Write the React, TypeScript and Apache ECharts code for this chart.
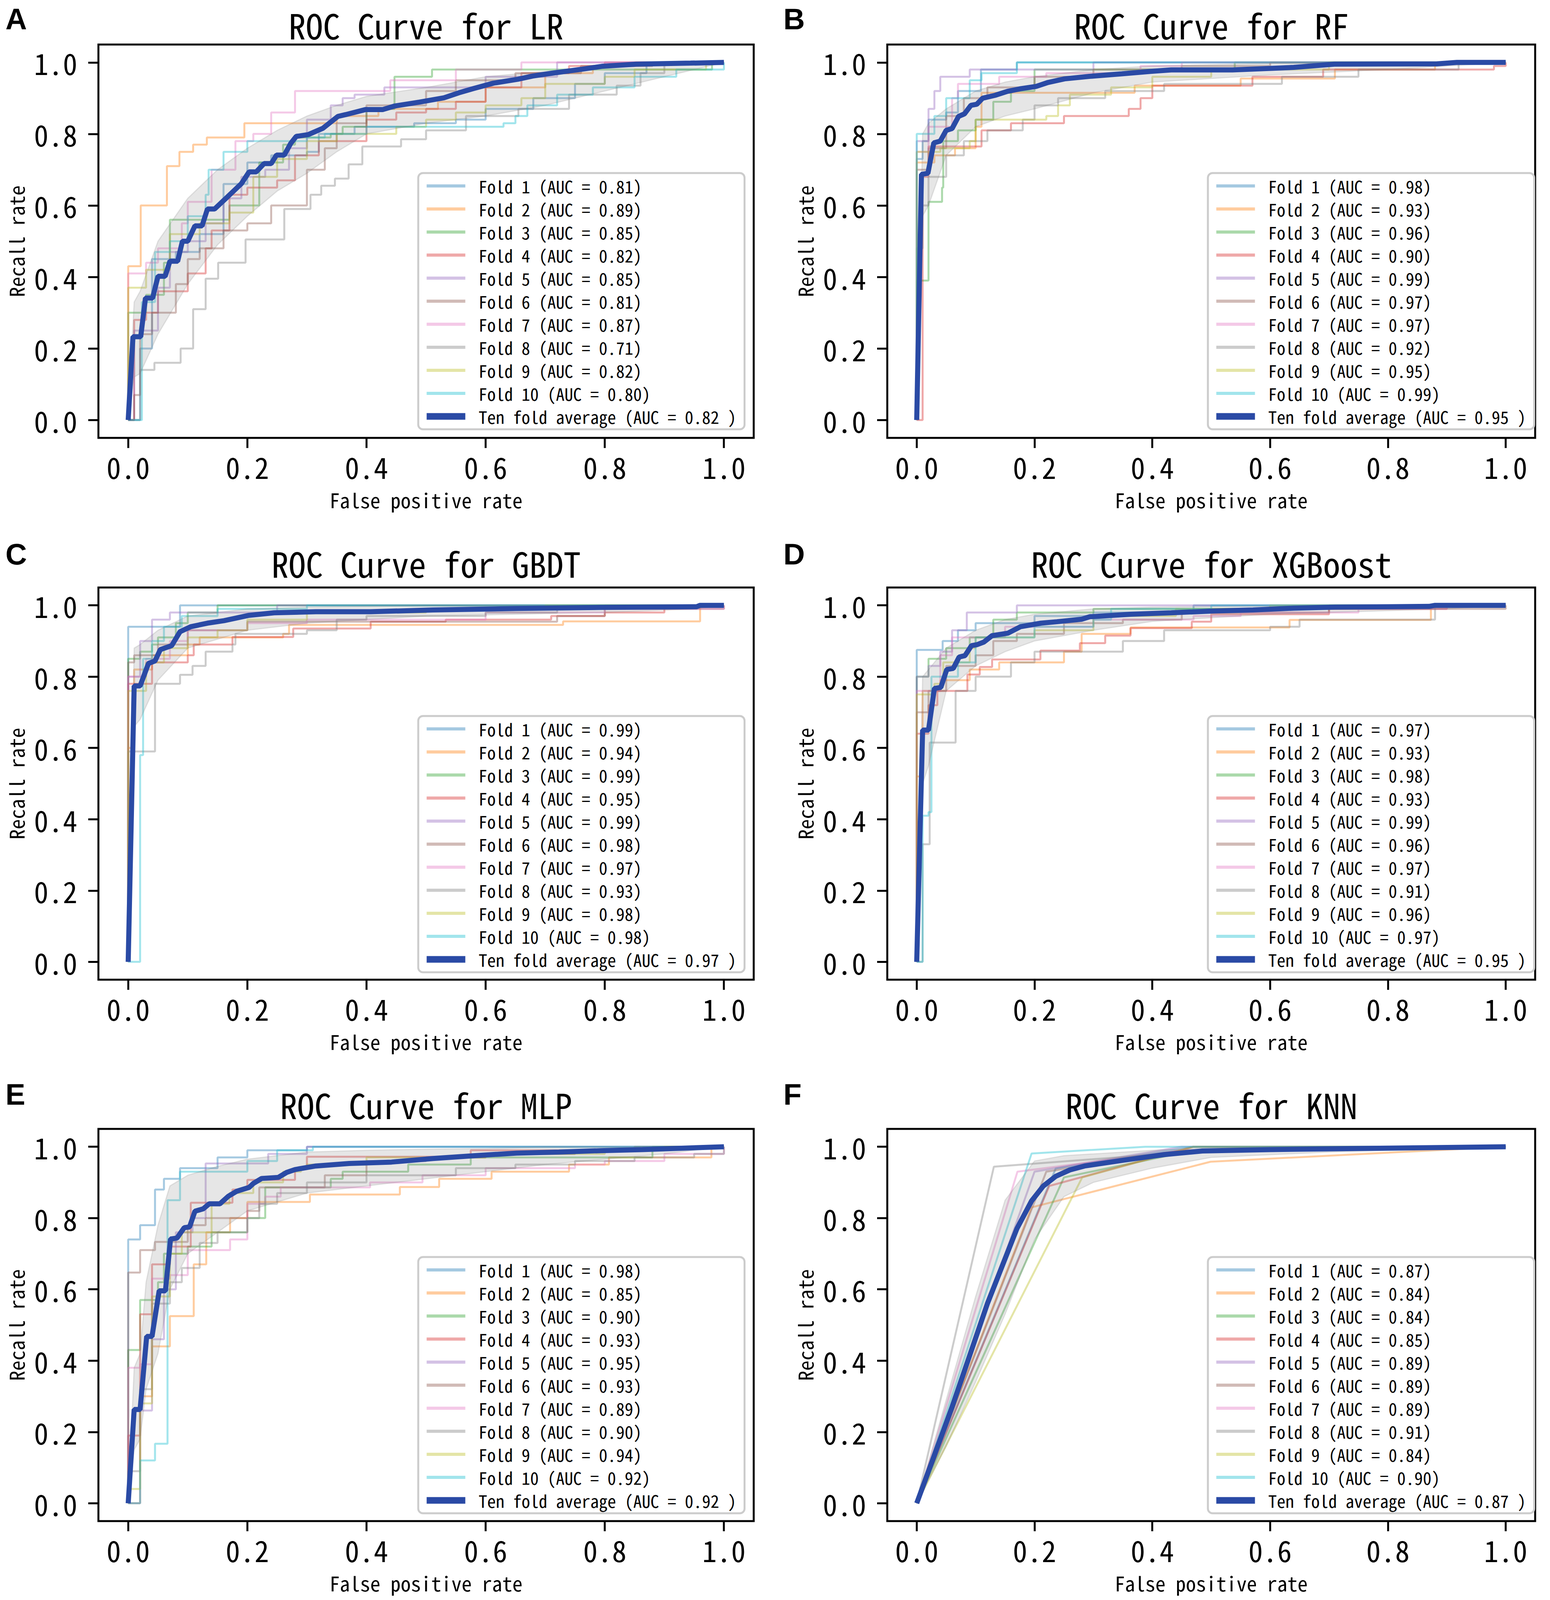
import React, { useEffect, useRef } from 'react';
import * as echarts from 'echarts';

// ---------------- data ----------------
const MODELS = ['LR', 'RF', 'GBDT', 'XGBoost', 'MLP', 'KNN'];
const LETTERS = ['A', 'B', 'C', 'D', 'E', 'F'];
const TICKS = [0, 0.2, 0.4, 0.6, 0.8, 1.0];

const LR_AUC = [0.81, 0.89, 0.85, 0.82, 0.85, 0.81, 0.87, 0.71, 0.82, 0.80];
const RF_AUC = [0.98, 0.93, 0.96, 0.90, 0.99, 0.97, 0.97, 0.92, 0.95, 0.99];
const GBDT_AUC = [0.99, 0.94, 0.99, 0.95, 0.99, 0.98, 0.97, 0.93, 0.98, 0.98];
const XGB_AUC = [0.97, 0.93, 0.98, 0.93, 0.99, 0.96, 0.97, 0.91, 0.96, 0.97];
const MLP_AUC = [0.98, 0.85, 0.90, 0.93, 0.95, 0.93, 0.89, 0.90, 0.94, 0.92];
const KNN_AUC = [0.87, 0.84, 0.84, 0.85, 0.89, 0.89, 0.89, 0.91, 0.84, 0.90];
const MEAN_AUC = [0.82, 0.95, 0.97, 0.95, 0.92, 0.87];

// fold curves: [fpr, tpr] points where the step rises
const LR_FOLDS = [
  [[0, 0], [0.02, 0.2], [0.04, 0.45], [0.08, 0.47], [0.12, 0.52], [0.16, 0.66], [0.2, 0.72], [0.24, 0.74], [0.3, 0.75], [0.32, 0.8], [0.38, 0.82], [0.48, 0.83], [0.55, 0.84], [0.6, 0.87], [0.68, 0.9], [0.75, 0.94], [0.8, 0.97], [0.87, 1], [1, 1]],
  [[0, 0], [0, 0.43], [0.021, 0.6], [0.065, 0.71], [0.086, 0.75], [0.109, 0.77], [0.132, 0.79], [0.195, 0.83], [0.35, 0.85], [0.42, 0.87], [0.52, 0.89], [0.6, 0.93], [0.7, 0.97], [0.78, 0.99], [0.85, 1], [1, 1]],
  [[0, 0], [0, 0.3], [0.03, 0.35], [0.06, 0.44], [0.07, 0.56], [0.15, 0.56], [0.17, 0.6], [0.22, 0.72], [0.26, 0.77], [0.28, 0.79], [0.34, 0.8], [0.36, 0.82], [0.4, 0.87], [0.447, 0.96], [0.51, 0.98], [0.98, 1], [1, 1]],
  [[0, 0], [0.01, 0.28], [0.03, 0.3], [0.05, 0.36], [0.1, 0.41], [0.13, 0.48], [0.14, 0.53], [0.17, 0.63], [0.2, 0.65], [0.25, 0.67], [0.28, 0.74], [0.32, 0.78], [0.4, 0.84], [0.45, 0.86], [0.5, 0.87], [0.55, 0.89], [0.6, 0.93], [0.66, 0.97], [0.74, 0.99], [0.8, 1], [1, 1]],
  [[0, 0], [0.01, 0.25], [0.05, 0.37], [0.07, 0.47], [0.1, 0.5], [0.13, 0.55], [0.16, 0.62], [0.19, 0.68], [0.23, 0.7], [0.27, 0.76], [0.3, 0.84], [0.34, 0.88], [0.36, 0.9], [0.38, 0.91], [0.43, 0.93], [0.6, 0.96], [0.72, 1], [1, 1]],
  [[0, 0], [0.01, 0.07], [0.02, 0.24], [0.04, 0.3], [0.08, 0.38], [0.1, 0.45], [0.12, 0.48], [0.16, 0.53], [0.2, 0.55], [0.24, 0.6], [0.3, 0.7], [0.33, 0.76], [0.35, 0.83], [0.4, 0.88], [0.5, 0.92], [0.55, 0.95], [0.65, 0.97], [0.76, 0.99], [0.88, 1], [1, 1]],
  [[0, 0], [0, 0.41], [0.03, 0.44], [0.05, 0.48], [0.09, 0.55], [0.1, 0.61], [0.14, 0.7], [0.18, 0.78], [0.21, 0.8], [0.24, 0.86], [0.28, 0.92], [0.35, 0.92], [0.44, 0.95], [0.55, 0.98], [0.66, 1], [1, 1]],
  [[0, 0], [0.02, 0.14], [0.044, 0.16], [0.088, 0.2], [0.109, 0.31], [0.13, 0.395], [0.151, 0.44], [0.197, 0.505], [0.262, 0.59], [0.306, 0.63], [0.324, 0.655], [0.347, 0.675], [0.37, 0.715], [0.393, 0.765], [0.458, 0.785], [0.5, 0.81], [0.567, 0.85], [0.655, 0.87], [0.74, 0.91], [0.82, 0.935], [0.86, 0.97], [0.9, 1], [1, 1]],
  [[0, 0], [0, 0.37], [0.03, 0.42], [0.07, 0.52], [0.12, 0.55], [0.17, 0.58], [0.21, 0.68], [0.25, 0.73], [0.3, 0.78], [0.35, 0.8], [0.45, 0.82], [0.5, 0.84], [0.55, 0.86], [0.6, 0.88], [0.66, 0.9], [0.7, 0.94], [0.8, 0.96], [0.85, 0.98], [0.97, 1], [1, 1]],
  [[0, 0], [0.023, 0.33], [0.045, 0.47], [0.07, 0.5], [0.1, 0.57], [0.13, 0.63], [0.135, 0.7], [0.16, 0.75], [0.2, 0.78], [0.3, 0.79], [0.33, 0.8], [0.4, 0.82], [0.63, 0.83], [0.65, 0.85], [0.67, 0.88], [0.72, 0.91], [0.78, 0.93], [0.85, 0.96], [0.92, 0.98], [1, 1]],
];
const RF_FOLDS = [
  [[0, 0], [0, 0.73], [0.01, 0.78], [0.02, 0.84], [0.05, 0.86], [0.07, 0.92], [0.109, 0.98], [0.17, 1], [1, 1]],
  [[0, 0], [0, 0.72], [0.03, 0.74], [0.065, 0.76], [0.1, 0.82], [0.11, 0.915], [0.35, 0.915], [0.37, 0.935], [0.53, 0.935], [0.55, 0.955], [0.7, 0.955], [0.71, 0.98], [0.88, 1], [1, 1]],
  [[0, 0], [0, 0.39], [0.02, 0.61], [0.043, 0.65], [0.045, 0.78], [0.07, 0.81], [0.1, 0.84], [0.13, 0.89], [0.16, 0.92], [0.2, 0.98], [0.54, 1], [1, 1]],
  [[0, 0], [0.01, 0.68], [0.02, 0.765], [0.11, 0.81], [0.16, 0.83], [0.25, 0.85], [0.36, 0.87], [0.38, 0.9], [0.4, 0.935], [0.57, 0.96], [0.69, 0.98], [0.98, 0.99], [1, 1]],
  [[0, 0], [0, 0.78], [0.02, 0.87], [0.03, 0.92], [0.04, 0.96], [0.09, 0.98], [0.3, 1], [1, 1]],
  [[0, 0], [0, 0.7], [0.02, 0.76], [0.05, 0.85], [0.08, 0.9], [0.12, 0.93], [0.2, 0.96], [0.3, 0.98], [0.45, 0.99], [0.6, 1], [1, 1]],
  [[0, 0], [0, 0.75], [0.02, 0.82], [0.06, 0.9], [0.07, 0.94], [0.14, 0.96], [0.22, 0.97], [0.38, 0.99], [0.45, 1], [1, 1]],
  [[0, 0], [0, 0.48], [0.01, 0.6], [0.02, 0.68], [0.05, 0.74], [0.08, 0.78], [0.12, 0.81], [0.18, 0.84], [0.2, 0.88], [0.24, 0.9], [0.32, 0.92], [0.42, 0.94], [0.62, 0.96], [0.75, 0.98], [0.92, 1], [1, 1]],
  [[0, 0], [0, 0.75], [0.04, 0.76], [0.09, 0.78], [0.1, 0.84], [0.22, 0.85], [0.24, 0.88], [0.26, 0.91], [0.33, 0.93], [0.4, 0.96], [0.5, 0.98], [0.7, 1], [1, 1]],
  [[0, 0], [0, 0.8], [0.03, 0.85], [0.05, 0.9], [0.09, 0.95], [0.11, 0.97], [0.17, 1], [1, 1]],
];
const GBDT_FOLDS = [
  [[0, 0], [0, 0.94], [0.087, 1], [1, 1]],
  [[0, 0], [0, 0.6], [0.01, 0.82], [0.04, 0.86], [0.1, 0.89], [0.12, 0.91], [0.26, 0.92], [0.27, 0.945], [0.73, 0.955], [0.96, 1], [1, 1]],
  [[0, 0], [0, 0.85], [0.02, 0.87], [0.04, 0.89], [0.05, 0.91], [0.08, 0.95], [0.1, 0.98], [0.15, 1], [1, 1]],
  [[0, 0], [0, 0.78], [0.04, 0.84], [0.1, 0.86], [0.11, 0.89], [0.175, 0.911], [0.277, 0.935], [0.407, 0.954], [0.533, 0.96], [0.71, 0.97], [0.8, 0.98], [0.9, 1], [1, 1]],
  [[0, 0], [0, 0.8], [0.02, 0.9], [0.04, 0.96], [0.07, 0.98], [0.25, 1], [1, 1]],
  [[0, 0], [0, 0.84], [0.01, 0.86], [0.05, 0.89], [0.1, 0.93], [0.2, 0.954], [0.72, 0.97], [0.8, 0.99], [1, 1]],
  [[0, 0], [0, 0.8], [0.03, 0.85], [0.07, 0.9], [0.1, 0.93], [0.2, 0.95], [0.3, 0.96], [0.6, 0.98], [0.8, 0.99], [1, 1]],
  [[0, 0], [0, 0.59], [0.045, 0.63], [0.045, 0.78], [0.087, 0.805], [0.108, 0.83], [0.13, 0.87], [0.175, 0.89], [0.18, 0.92], [0.3, 0.93], [0.35, 0.96], [0.4, 0.97], [0.6, 0.98], [0.72, 0.99], [0.8, 1], [1, 1]],
  [[0, 0], [0, 0.76], [0.03, 0.84], [0.06, 0.88], [0.1, 0.91], [0.15, 0.93], [0.2, 0.96], [0.3, 0.98], [0.5, 0.99], [0.7, 1], [1, 1]],
  [[0, 0], [0, 0.0], [0.02, 0.58], [0.025, 0.85], [0.04, 0.9], [0.06, 0.94], [0.09, 0.97], [0.15, 0.99], [0.3, 1], [1, 1]],
];
const XGB_FOLDS = [
  [[0, 0], [0, 0.875], [0.044, 0.9], [0.07, 0.93], [0.1, 0.95], [0.2, 0.97], [0.3, 0.98], [0.47, 1], [1, 1]],
  [[0, 0], [0, 0.52], [0.01, 0.76], [0.04, 0.79], [0.09, 0.82], [0.14, 0.84], [0.25, 0.87], [0.28, 0.92], [0.363, 0.938], [0.633, 0.959], [0.873, 1], [1, 1]],
  [[0, 0], [0, 0.8], [0.02, 0.85], [0.05, 0.88], [0.09, 0.91], [0.13, 0.96], [0.17, 0.98], [0.3, 0.99], [0.7, 1], [1, 1]],
  [[0, 0], [0, 0.64], [0.02, 0.72], [0.035, 0.76], [0.086, 0.806], [0.107, 0.827], [0.128, 0.848], [0.21, 0.873], [0.277, 0.894], [0.32, 0.915], [0.363, 0.936], [0.467, 0.954], [0.5, 0.975], [0.7, 0.99], [0.9, 1], [1, 1]],
  [[0, 0], [0, 0.8], [0.02, 0.83], [0.04, 0.87], [0.06, 0.93], [0.085, 0.98], [0.17, 1], [1, 1]],
  [[0, 0], [0, 0.7], [0.02, 0.76], [0.05, 0.83], [0.1, 0.86], [0.13, 0.9], [0.17, 0.92], [0.25, 0.95], [0.35, 0.96], [0.45, 0.98], [0.7, 0.99], [1, 1]],
  [[0, 0], [0, 0.76], [0.04, 0.86], [0.06, 0.91], [0.15, 0.94], [0.3, 0.96], [0.47, 0.97], [0.55, 0.98], [0.75, 0.99], [0.9, 1], [1, 1]],
  [[0, 0], [0.01, 0.33], [0.022, 0.615], [0.066, 0.633], [0.066, 0.76], [0.1, 0.8], [0.16, 0.84], [0.2, 0.87], [0.35, 0.9], [0.42, 0.93], [0.6, 0.94], [0.65, 0.96], [0.88, 0.97], [0.88, 1], [1, 1]],
  [[0, 0], [0, 0.75], [0.03, 0.78], [0.045, 0.84], [0.09, 0.88], [0.1, 0.91], [0.2, 0.93], [0.3, 0.97], [0.44, 0.99], [0.6, 1], [1, 1]],
  [[0, 0], [0.01, 0.41], [0.02, 0.42], [0.025, 0.8], [0.07, 0.84], [0.1, 0.91], [0.2, 0.94], [0.3, 0.96], [0.33, 0.99], [0.5, 1], [1, 1]],
];
const MLP_FOLDS = [
  [[0, 0], [0, 0.74], [0.02, 0.78], [0.045, 0.88], [0.06, 0.91], [0.087, 0.94], [0.15, 0.97], [0.2, 0.99], [0.3, 1], [1, 1]],
  [[0, 0], [0.02, 0.3], [0.04, 0.44], [0.07, 0.525], [0.11, 0.67], [0.131, 0.76], [0.171, 0.8], [0.2, 0.845], [0.305, 0.866], [0.456, 0.887], [0.522, 0.91], [0.61, 0.93], [0.74, 0.95], [0.807, 0.97], [0.979, 1], [1, 1]],
  [[0, 0], [0, 0.43], [0.02, 0.57], [0.05, 0.62], [0.06, 0.7], [0.1, 0.72], [0.14, 0.76], [0.2, 0.8], [0.23, 0.886], [0.34, 0.91], [0.36, 0.93], [0.47, 0.95], [0.575, 0.97], [0.88, 1], [1, 1]],
  [[0, 0], [0, 0.19], [0.02, 0.53], [0.04, 0.67], [0.07, 0.72], [0.105, 0.843], [0.175, 0.88], [0.2, 0.907], [0.28, 0.94], [0.3, 0.972], [0.575, 0.99], [0.9, 1], [1, 1]],
  [[0, 0], [0.02, 0.26], [0.04, 0.46], [0.06, 0.6], [0.08, 0.76], [0.108, 0.8], [0.13, 0.953], [0.235, 0.98], [0.3, 1], [1, 1]],
  [[0, 0], [0, 0.647], [0.02, 0.71], [0.045, 0.733], [0.1, 0.78], [0.13, 0.8], [0.2, 0.82], [0.22, 0.886], [0.33, 0.92], [0.4, 0.96], [0.5, 0.97], [0.6, 0.98], [0.75, 0.99], [0.85, 1], [1, 1]],
  [[0, 0], [0, 0.38], [0.02, 0.39], [0.04, 0.63], [0.07, 0.64], [0.1, 0.71], [0.171, 0.74], [0.2, 0.84], [0.23, 0.86], [0.256, 0.886], [0.406, 0.9], [0.494, 0.92], [0.6, 0.94], [0.75, 0.95], [0.8, 0.96], [0.9, 0.98], [1, 1]],
  [[0, 0], [0, 0.09], [0.02, 0.32], [0.04, 0.56], [0.07, 0.62], [0.09, 0.66], [0.12, 0.73], [0.15, 0.76], [0.2, 0.8], [0.22, 0.84], [0.25, 0.87], [0.3, 0.9], [0.4, 0.92], [0.55, 0.94], [0.65, 0.95], [0.75, 0.96], [0.85, 0.97], [0.95, 0.98], [1, 1]],
  [[0, 0], [0, 0.04], [0.02, 0.28], [0.04, 0.58], [0.07, 0.7], [0.09, 0.76], [0.14, 0.84], [0.17, 0.87], [0.21, 0.9], [0.26, 0.93], [0.29, 0.94], [0.3, 0.95], [0.4, 0.97], [0.6, 0.98], [0.8, 0.99], [0.9, 1], [1, 1]],
  [[0, 0], [0.02, 0.12], [0.045, 0.167], [0.066, 0.85], [0.087, 0.93], [0.2, 0.96], [0.25, 0.99], [0.31, 1], [1, 1]],
];
const KNN_FOLDS = [
  [[0, 0], [0.236, 0.939], [0.47, 1], [1, 1]],
  [[0, 0], [0.195, 0.83], [0.499, 0.958], [1, 1]],
  [[0, 0], [0.25, 0.914], [0.47, 0.99], [1, 1]],
  [[0, 0], [0.225, 0.89], [0.47, 1], [1, 1]],
  [[0, 0], [0.2, 0.93], [0.45, 1], [1, 1]],
  [[0, 0], [0.22, 0.93], [0.45, 0.99], [1, 1]],
  [[0, 0], [0.171, 0.93], [0.45, 0.99], [1, 1]],
  [[0, 0], [0.131, 0.944], [0.5, 0.99], [1, 1]],
  [[0, 0], [0.281, 0.914], [0.47, 1], [1, 1]],
  [[0, 0], [0.195, 0.981], [0.388, 1], [1, 1]],
];

const LR_MEAN = [[0, 0], [0.008, 0.233], [0.021, 0.233], [0.029, 0.341], [0.041, 0.341], [0.05, 0.402], [0.062, 0.402], [0.07, 0.444], [0.083, 0.444], [0.091, 0.5], [0.1, 0.5], [0.112, 0.543], [0.124, 0.543], [0.133, 0.59], [0.145, 0.59], [0.166, 0.623], [0.19, 0.661], [0.203, 0.694], [0.215, 0.694], [0.228, 0.717], [0.24, 0.717], [0.249, 0.741], [0.262, 0.741], [0.273, 0.774], [0.282, 0.793], [0.302, 0.798], [0.327, 0.816], [0.352, 0.849], [0.365, 0.854], [0.398, 0.868], [0.427, 0.868], [0.447, 0.878], [0.489, 0.889], [0.53, 0.901], [0.555, 0.915], [0.58, 0.927], [0.613, 0.942], [0.654, 0.953], [0.679, 0.962], [0.712, 0.97], [0.762, 0.981], [0.795, 0.989], [0.853, 0.995], [0.944, 0.998], [1, 1]];
const RF_MEAN = [[0, 0], [0.008, 0.687], [0.019, 0.69], [0.029, 0.775], [0.04, 0.78], [0.05, 0.81], [0.06, 0.815], [0.071, 0.849], [0.081, 0.856], [0.092, 0.88], [0.102, 0.883], [0.112, 0.9], [0.133, 0.908], [0.154, 0.919], [0.175, 0.926], [0.203, 0.933], [0.223, 0.944], [0.251, 0.954], [0.293, 0.961], [0.348, 0.968], [0.397, 0.975], [0.432, 0.979], [0.536, 0.979], [0.64, 0.986], [0.709, 0.995], [0.883, 0.996], [0.917, 1], [1, 1]];
const GBDT_MEAN = [[0, 0], [0.01, 0.774], [0.02, 0.774], [0.034, 0.837], [0.045, 0.844], [0.054, 0.876], [0.073, 0.887], [0.087, 0.926], [0.105, 0.94], [0.133, 0.95], [0.161, 0.957], [0.203, 0.972], [0.245, 0.979], [0.315, 0.982], [0.407, 0.982], [0.512, 0.987], [0.652, 0.991], [0.793, 0.994], [0.954, 0.996], [0.96, 1], [1, 1]];
const XGB_MEAN = [[0, 0], [0.01, 0.65], [0.02, 0.65], [0.03, 0.767], [0.041, 0.77], [0.051, 0.82], [0.062, 0.823], [0.072, 0.855], [0.082, 0.859], [0.093, 0.887], [0.103, 0.89], [0.114, 0.897], [0.128, 0.915], [0.155, 0.922], [0.176, 0.94], [0.211, 0.95], [0.238, 0.954], [0.28, 0.961], [0.294, 0.968], [0.363, 0.975], [0.432, 0.979], [0.502, 0.984], [0.571, 0.987], [0.64, 0.992], [0.71, 0.995], [0.87, 0.997], [0.88, 1], [1, 1]];
const MLP_MEAN = [[0, 0], [0.01, 0.263], [0.02, 0.263], [0.031, 0.468], [0.04, 0.468], [0.052, 0.596], [0.0625, 0.596], [0.071, 0.741], [0.082, 0.744], [0.094, 0.773], [0.103, 0.775], [0.112, 0.819], [0.126, 0.826], [0.136, 0.84], [0.154, 0.84], [0.168, 0.861], [0.182, 0.875], [0.203, 0.886], [0.21, 0.897], [0.224, 0.911], [0.252, 0.914], [0.266, 0.928], [0.28, 0.936], [0.315, 0.946], [0.371, 0.953], [0.442, 0.957], [0.512, 0.967], [0.582, 0.975], [0.652, 0.982], [0.723, 0.985], [0.793, 0.989], [0.863, 0.992], [1, 1]];
const KNN_MEAN = [[0, 0], [0.06, 0.27], [0.12, 0.56], [0.17, 0.77], [0.195, 0.848], [0.215, 0.89], [0.236, 0.917], [0.26, 0.935], [0.285, 0.946], [0.35, 0.962], [0.42, 0.978], [0.485, 0.988], [0.6, 0.992], [0.8, 0.996], [1, 1]];

// mean ± std band
const LR_BAND_X = [0, 0.01, 0.02, 0.05, 0.1, 0.15, 0.2, 0.25, 0.3, 0.35, 0.4, 0.5, 0.6, 0.7, 0.8, 0.9, 1];
const LR_BAND_HI = [0, 0.33, 0.36, 0.5, 0.62, 0.7, 0.76, 0.81, 0.85, 0.88, 0.905, 0.93, 0.96, 0.975, 0.99, 1, 1];
const LR_BAND_LO = [0, 0.12, 0.13, 0.24, 0.38, 0.49, 0.57, 0.64, 0.69, 0.75, 0.8, 0.83, 0.85, 0.88, 0.92, 0.96, 1];
const RF_BAND_X = [0, 0.01, 0.02, 0.05, 0.1, 0.15, 0.2, 0.3, 0.4, 0.6, 0.8, 1];
const RF_BAND_HI = [0, 0.8, 0.83, 0.87, 0.92, 0.945, 0.96, 0.98, 0.99, 0.997, 1, 1];
const RF_BAND_LO = [0, 0.57, 0.6, 0.74, 0.82, 0.85, 0.87, 0.915, 0.945, 0.965, 0.98, 1];
const GBDT_BAND_X = [0, 0.01, 0.02, 0.05, 0.1, 0.2, 0.3, 0.5, 0.8, 0.95, 1];
const GBDT_BAND_HI = [0, 0.88, 0.89, 0.93, 0.97, 0.99, 0.995, 1, 1, 1, 1];
const GBDT_BAND_LO = [0, 0.66, 0.68, 0.79, 0.88, 0.93, 0.95, 0.97, 0.98, 0.99, 1];
const XGB_BAND_X = [0, 0.01, 0.02, 0.05, 0.1, 0.15, 0.2, 0.3, 0.4, 0.5, 0.6, 0.7, 0.8, 0.9, 1];
const XGB_BAND_HI = [0, 0.8, 0.82, 0.88, 0.93, 0.96, 0.975, 0.99, 0.995, 0.997, 0.998, 1, 1, 1, 1];
const XGB_BAND_LO = [0, 0.5, 0.55, 0.76, 0.83, 0.87, 0.9, 0.93, 0.955, 0.965, 0.975, 0.98, 0.985, 0.99, 1];
const MLP_BAND_X = [0, 0.01, 0.02, 0.03, 0.05, 0.07, 0.1, 0.15, 0.2, 0.3, 0.4, 0.5, 0.6, 0.7, 0.8, 0.9, 1];
const MLP_BAND_HI = [0, 0.38, 0.42, 0.62, 0.78, 0.89, 0.92, 0.945, 0.965, 0.985, 0.99, 0.993, 0.995, 1, 1, 1, 1];
const MLP_BAND_LO = [0, 0.15, 0.18, 0.32, 0.42, 0.6, 0.7, 0.76, 0.82, 0.87, 0.89, 0.91, 0.93, 0.95, 0.965, 0.98, 1];
const KNN_BAND_X = [0, 0.05, 0.1, 0.15, 0.2, 0.25, 0.3, 0.4, 0.5, 0.7, 1];
const KNN_BAND_HI = [0, 0.29, 0.58, 0.85, 0.96, 0.975, 0.98, 0.99, 0.998, 1, 1];
const KNN_BAND_LO = [0, 0.16, 0.34, 0.53, 0.74, 0.86, 0.9, 0.94, 0.97, 0.985, 1];

// ---------------- style / layout (reference pixels, 3969 x 4258) ----------------
const REF_W = 3969;
const REF_H = 4258;
const FONT = '"Noto Sans Mono CJK SC", "Noto Sans CJK SC", "DejaVu Sans Mono", monospace';
const LETTER_FONT = '"Liberation Sans", Arial, sans-serif';
const FOLD_COLORS = [
  'rgba(31,119,180,0.4)', 'rgba(255,127,14,0.4)', 'rgba(44,160,44,0.4)', 'rgba(214,39,40,0.4)',
  'rgba(148,103,189,0.4)', 'rgba(140,86,75,0.4)', 'rgba(227,119,194,0.4)', 'rgba(127,127,127,0.4)',
  'rgba(188,189,34,0.4)', 'rgba(23,190,207,0.4)',
];
const MEAN_COLOR = '#2A4AA5';
const BAND_COLOR = 'rgba(128,128,128,0.2)';

const GRID_LEFT = [252, 2272];
const GRID_W = [1678, 1659];
const GRID_TOP = [119, 1564, 3004];
const GRID_H = [1047, 1044, 1044];
const LEGEND_LEFT = [1071, 3093];
const LEGEND_TOP = [461, 1905, 3345];
const TITLE_Y = [64, 1497, 2938];
const LETTER_Y = [50, 1474, 2912];
const LETTER_X = [14, 2006];

const PANELS = [
  { folds: LR_FOLDS, auc: LR_AUC, mean: LR_MEAN, bx: LR_BAND_X, bh: LR_BAND_HI, bl: LR_BAND_LO, step: true },
  { folds: RF_FOLDS, auc: RF_AUC, mean: RF_MEAN, bx: RF_BAND_X, bh: RF_BAND_HI, bl: RF_BAND_LO, step: true },
  { folds: GBDT_FOLDS, auc: GBDT_AUC, mean: GBDT_MEAN, bx: GBDT_BAND_X, bh: GBDT_BAND_HI, bl: GBDT_BAND_LO, step: true },
  { folds: XGB_FOLDS, auc: XGB_AUC, mean: XGB_MEAN, bx: XGB_BAND_X, bh: XGB_BAND_HI, bl: XGB_BAND_LO, step: true },
  { folds: MLP_FOLDS, auc: MLP_AUC, mean: MLP_MEAN, bx: MLP_BAND_X, bh: MLP_BAND_HI, bl: MLP_BAND_LO, step: true },
  { folds: KNN_FOLDS, auc: KNN_AUC, mean: KNN_MEAN, bx: KNN_BAND_X, bh: KNN_BAND_HI, bl: KNN_BAND_LO, step: false },
];

function buildOption(W: number, H: number) {
  const sx = W / REF_W;
  const sy = H / REF_H;
  const sf = sx;
  const X = (v: number) => Math.round(v * sx);
  const Y = (v: number) => Math.round(v * sy);
  const F = (v: number) => Math.max(1, Math.round(v * sf));

  const grid: any[] = [];
  const xAxis: any[] = [];
  const yAxis: any[] = [];
  const series: any[] = [];
  const legend: any[] = [];
  const graphic: any[] = [];

  PANELS.forEach((p, i) => {
    const col = i % 2;
    const row = Math.floor(i / 2);
    grid.push({
      left: X(GRID_LEFT[col]), top: Y(GRID_TOP[row]), width: X(GRID_W[col]), height: Y(GRID_H[row]),
      show: true, borderColor: '#000', borderWidth: F(5), backgroundColor: 'transparent',
    });
    const axisCommon = {
      type: 'value', gridIndex: i, min: -0.05, max: 1.05,
      nameLocation: 'middle',
      nameTextStyle: { fontFamily: FONT, fontSize: F(52), color: '#000' },
      axisLine: { show: false, onZero: false },
      splitLine: { show: false },
      axisTick: { show: true, inside: false, length: F(26), customValues: TICKS, lineStyle: { color: '#000', width: F(5) } },
    };
    xAxis.push({
      ...axisCommon, name: 'False positive rate', nameGap: Y(136),
      axisLabel: { customValues: TICKS, formatter: (v: number) => v.toFixed(1), fontFamily: FONT, fontSize: F(74), color: '#000', margin: Y(36) },
    });
    yAxis.push({
      ...axisCommon, name: 'Recall rate', nameGap: X(186),
      axisLabel: { customValues: TICKS, formatter: (v: number) => v.toFixed(1), fontFamily: FONT, fontSize: F(74), color: '#000', margin: X(54) },
    });

    const legendData: any[] = [];
    p.folds.forEach((f, k) => {
      const name = `Fold ${k + 1} (AUC = ${p.auc[k].toFixed(2)})`;
      legendData.push({ name, lineStyle: { width: F(8), color: FOLD_COLORS[k] } });
      series.push({
        type: 'line', name, xAxisIndex: i, yAxisIndex: i, data: f,
        step: p.step ? 'end' : false, symbol: 'none', silent: true,
        lineStyle: { color: FOLD_COLORS[k], width: F(5) }, itemStyle: { color: FOLD_COLORS[k] },
        emphasis: { disabled: true }, z: 2,
      });
    });
    series.push({
      type: 'custom', xAxisIndex: i, yAxisIndex: i, data: [[0, 0]], silent: true, z: 3,
      renderItem: (_params: any, api: any) => {
        const pts: number[][] = [];
        for (let j = 0; j < p.bx.length; j++) pts.push(api.coord([p.bx[j], p.bh[j]]));
        for (let j = p.bx.length - 1; j >= 0; j--) pts.push(api.coord([p.bx[j], p.bl[j]]));
        return { type: 'polygon', shape: { points: pts }, style: { fill: BAND_COLOR, stroke: BAND_COLOR, lineWidth: F(3) } };
      },
    });
    const meanName = `Ten fold average (AUC = ${MEAN_AUC[i].toFixed(2)} )`;
    legendData.push({ name: meanName, lineStyle: { width: F(17), color: MEAN_COLOR } });
    series.push({
      type: 'line', name: meanName, xAxisIndex: i, yAxisIndex: i, data: p.mean,
      symbol: 'none', silent: true, lineStyle: { color: MEAN_COLOR, width: F(13) }, itemStyle: { color: MEAN_COLOR },
      emphasis: { disabled: true }, z: 4,
    });

    legend.push({
      orient: 'vertical', left: X(LEGEND_LEFT[col]), top: Y(LEGEND_TOP[row]), data: legendData,
      itemWidth: F(99), itemHeight: F(20), itemGap: Y(11), padding: [Y(9), F(21), Y(9), F(13)],
      backgroundColor: 'rgba(255,255,255,0.8)', borderColor: '#cccccc', borderWidth: F(5), borderRadius: F(12),
      selectedMode: false, z: 10,
      itemStyle: { color: 'rgba(0,0,0,0)', borderWidth: 0, opacity: 0 },
      textStyle: { fontFamily: FONT, fontSize: F(44), color: '#000', lineHeight: Y(50), padding: [0, 0, 0, F(29)] },
    });

    graphic.push({
      type: 'text', x: X(GRID_LEFT[col] + GRID_W[col] / 2), y: Y(TITLE_Y[row]), silent: true,
      style: { text: `ROC Curve for ${MODELS[i]}`, fontFamily: FONT, fontSize: F(88), fill: '#000', align: 'center', verticalAlign: 'middle' },
    });
    graphic.push({
      type: 'text', x: X(LETTER_X[col]), y: Y(LETTER_Y[row]), silent: true,
      style: { text: LETTERS[i], fontFamily: LETTER_FONT, fontWeight: 'bold', fontSize: F(76), fill: '#000', align: 'left', verticalAlign: 'middle' },
    });
  });

  return { backgroundColor: '#ffffff', animation: false, grid, xAxis, yAxis, series, legend, graphic };
}

function viewport() {
  const w = Math.min(window.innerWidth || REF_W, document.documentElement.clientWidth || REF_W) || REF_W;
  const h = Math.min(window.innerHeight || REF_H, document.documentElement.clientHeight || REF_H) || REF_H;
  return { w, h };
}

export default function App() {
  const ref = useRef<HTMLDivElement>(null);
  const { w, h } = viewport();
  useEffect(() => {
    if (!ref.current) return;
    const chart = echarts.init(ref.current, null, { renderer: 'svg' });
    chart.setOption(buildOption(w, h) as any);
    return () => chart.dispose();
  }, []);
  return <div ref={ref} style={{ position: 'absolute', left: 0, top: 0, width: w, height: h, background: '#fff', overflow: 'hidden' }} />;
}
